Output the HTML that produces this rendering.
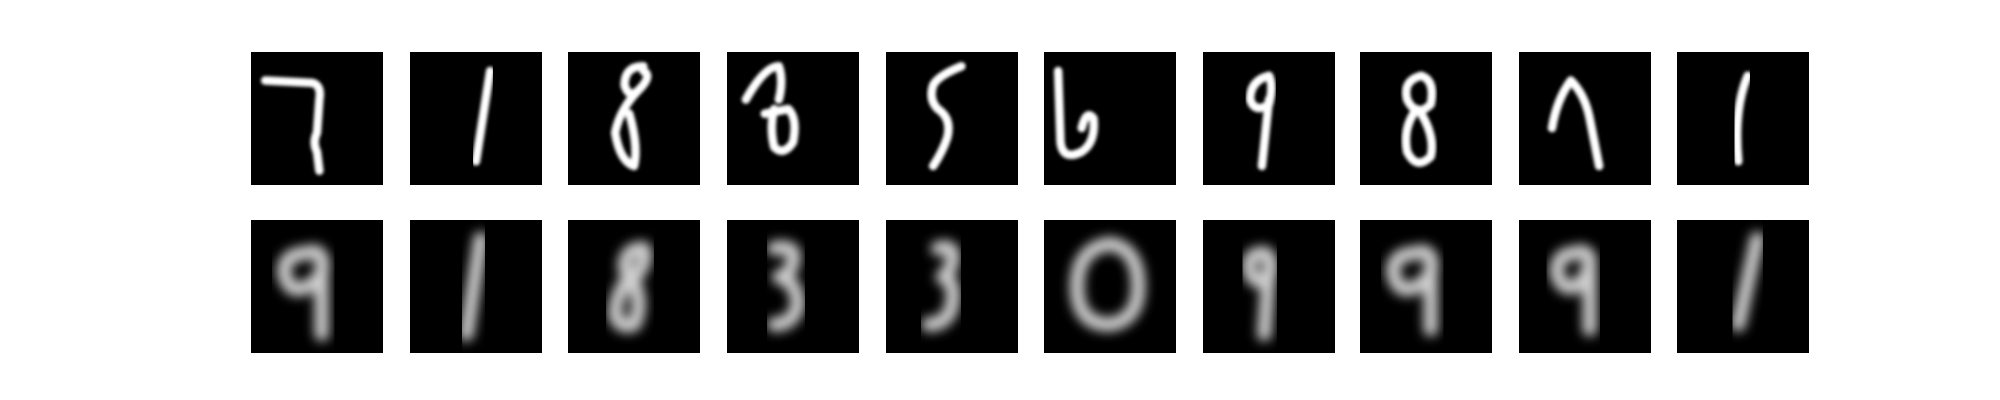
<!DOCTYPE html>
<html><head><meta charset="utf-8"><style>
html,body{margin:0;padding:0;background:#fff;width:2000px;height:400px;overflow:hidden}
</style></head><body>
<svg id="fig" width="2000" height="400" viewBox="0 0 2000 400" xmlns="http://www.w3.org/2000/svg">
<defs>
<filter id="blur" x="-30%" y="-30%" width="160%" height="160%"><feGaussianBlur stdDeviation="1.2"/></filter>
<filter id="soft" x="-20%" y="-20%" width="140%" height="140%"><feGaussianBlur stdDeviation="0.35"/></filter>
</defs>
</svg>
<script>
const tileX = [251,410,568,727,886,1044,1203,1360,1519,1677];
const originalDigits = ['7','1','8','3','5','6','9','8','7','1'];
const reconstructedDigits = ['9','1','8','3','3','0','9','9','9','1'];
const topPaths = [
 "M3,6 L13,6.5 Q15,7 14.5,10 L14,17 Q13,19 14,21 L14.5,25",
 "M17,4 L14,23",
 "M16,3 Q12,3 12,7 Q13,10 15,8 Q18,5 16,4 M15,8 Q11,12 10,17 Q11,23 14,24 Q15,20 13,13",
 "M4,10 Q8,3 11,3 Q12,6 11,10 M8,13 L13,12 Q15,14 14,19 Q12,22 10,20 Q9,16 10,12",
 "M16,3 Q11,5 10,7 Q9,10 11,12 Q14,14 13,18 Q12,21 10,24",
 "M3,4 L3.5,19 Q4,23 8,21 Q11,19 10.5,14 Q9,12 8,16",
 "M14,5 Q10,6 10,10 Q11,13 14,11 Q15,7 14,5 M14,10 L12.5,24",
 "M13,5 Q9,6 10,10 Q12,14 15,11 Q16,6 13,5 M12,12 Q9,16 10,21 Q12,25 15,22 Q16,18 13,13",
 "M7,16 Q8,10 11,6 Q14,9 15,14 L17,24",
 "M15,5 Q12,12 13,23"
];
const botPaths = [
 "M12,7 Q7,7 7,11 Q8,16 12,14 Q16,12 15,8 Q14,6 12,7 M15,10 L15,24",
 "M15,4 L12,24",
 "M16,6 Q12,6 12,10 Q13,13 15,11 Q17,8 16,6 M13,12 Q10,16 10,20 Q11,23 14,22 Q16,18 14,13",
 "M10,6 Q15,5 14,9 Q13,12 11,12 Q15,13 15,18 Q14,22 10,22",
 "M11,6 Q15,5 14,9 Q13,12 12,12 Q15,13 14,18 Q13,22 9,22",
 "M14,5 Q7,6 7,14 Q7,22 14,22 Q20,21 20,14 Q20,6 14,5 Z",
 "M13,7 Q9,7 10,11 Q11,14 14,12 Q15,8 13,7 M14,10 L13,24",
 "M12,7 Q7,7 7,11 Q8,16 12,14 Q16,12 15,8 Q14,6 12,7 M15,10 L15,23",
 "M12,7 Q8,7 8,11 Q9,15 12,14 Q15,12 15,8 Q14,6 12,7 M15,10 L15,23",
 "M17,4 L13,22"
];
const svg = document.getElementById('fig');
const NS = 'http://www.w3.org/2000/svg';
function tile(x, y, d, row, i, label) {
  const s = document.createElementNS(NS, 'svg');
  s.setAttribute('x', x); s.setAttribute('y', y);
  s.setAttribute('width', 132); s.setAttribute('height', 133);
  s.setAttribute('viewBox', '0 0 28 28');
  s.setAttribute('preserveAspectRatio', 'none');
  
  
  const bg = document.createElementNS(NS, 'rect');
  bg.setAttribute('width', 28); bg.setAttribute('height', 28); bg.setAttribute('fill', '#000');
  
  
  s.appendChild(bg);
  const p = document.createElementNS(NS, 'path');
  p.setAttribute('d', d);
  p.setAttribute('fill', 'none');
  p.setAttribute('stroke-linecap', 'round');
  p.setAttribute('stroke-linejoin', 'round');
  if (row === 'original') {
    p.setAttribute('stroke', '#fff'); p.setAttribute('stroke-width', '1.8');
    p.setAttribute('filter', 'url(#soft)');
  } else {
    p.setAttribute('stroke', '#d0d0d0'); p.setAttribute('stroke-width', '3');
    p.setAttribute('filter', 'url(#blur)');
  }
  
  
  s.appendChild(p);
  svg.appendChild(s);
}
for (let i = 0; i < tileX.length; i++) {
  tile(tileX[i], 52, topPaths[i], 'original', i, originalDigits[i]);
  tile(tileX[i], 220, botPaths[i], 'reconstructed', i, reconstructedDigits[i]);
}
</script>
</body></html>
